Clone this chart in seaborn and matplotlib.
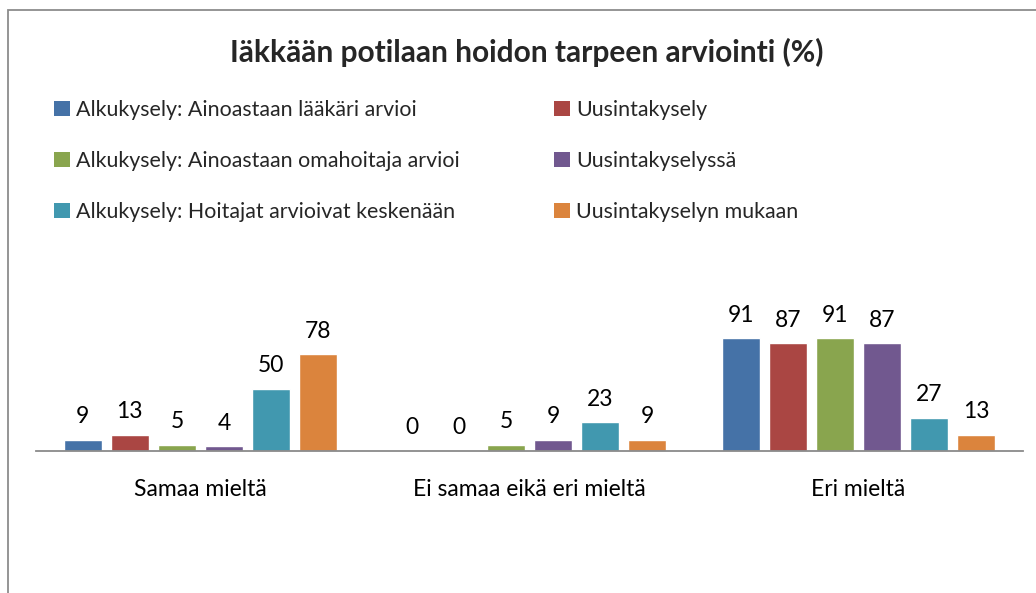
import matplotlib
matplotlib.use("Agg")
import matplotlib.pyplot as plt
from matplotlib.patches import Patch, Rectangle
import seaborn as sns
import pandas as pd

categories = ["Samaa mieltä", "Ei samaa eikä eri mieltä", "Eri mieltä"]
series = ["Alkukysely: Ainoastaan lääkäri arvioi", "Uusintakysely",
          "Alkukysely: Ainoastaan omahoitaja arvioi", "Uusintakyselyssä",
          "Alkukysely: Hoitajat arvioivat keskenään", "Uusintakyselyn mukaan"]
colors = ["#4572A7", "#AA4643", "#89A54E", "#71588F", "#4198AF", "#DB843D"]
values = [
    [9, 0, 91],
    [13, 0, 87],
    [5, 5, 91],
    [4, 9, 87],
    [50, 23, 27],
    [78, 9, 13],
]
title = "Iäkkään potilaan hoidon tarpeen arviointi (%)"

rows = []
for s, vals in zip(series, values):
    for c, v in zip(categories, vals):
        rows.append({"category": c, "series": s, "value": v})
df = pd.DataFrame(rows)

sns.set_theme(style="white")
plt.rcParams["font.family"] = ["Lato", "DejaVu Sans"]

W, H = 1036, 593
fig = plt.figure(figsize=(W / 100, H / 100), dpi=100)
ax = fig.add_axes([36 / W, 1 - 451 / H, 987 / W, 124 / H])

sns.barplot(data=df, x="category", y="value", hue="series", order=categories,
            hue_order=series, palette=colors, width=0.86, gap=0.19,
            saturation=1, legend=False, ax=ax)

ax.set_ylim(0, 100)
ax.set_xlim(-0.5, 2.5)
for cont in ax.containers:
    ax.bar_label(cont, labels=[f"{int(v)}" for v in cont.datavalues],
                 padding=9, fontsize=16.5, color="black", clip_on=False)

ax.set_xlabel("")
ax.set_ylabel("")
ax.set_yticks([])
ax.tick_params(axis="x", length=0, pad=20, labelsize=16.5, colors="black")
for side in ["left", "top", "right"]:
    ax.spines[side].set_visible(False)
ax.spines["bottom"].set_color("#8a8a8a")
ax.spines["bottom"].set_linewidth(1.3)
ax.patch.set_alpha(0)

fig.text(527 / W, 1 - 52 / H, title, ha="center", va="center",
         fontsize=21.5, fontweight="bold")

handles = [Patch(facecolor=c, edgecolor="none") for c in colors]
leg_kw = dict(frameon=False, fontsize=15.4, handlelength=0.75, handleheight=0.75,
              handletextpad=0.3, labelspacing=1.45, borderpad=0, borderaxespad=0)
fig.legend(handles[0::2], series[0::2], loc="upper left",
           bbox_to_anchor=(54 / W, 1 - 100 / H), **leg_kw)
fig.legend(handles[1::2], series[1::2], loc="upper left",
           bbox_to_anchor=(554 / W, 1 - 100 / H), **leg_kw)

fig.add_artist(Rectangle((8 / W, -0.1), 1.2, 1.1 - 10 / H, transform=fig.transFigure,
                         fill=False, edgecolor="#8c8c8c", linewidth=1.3))

fig.savefig("out.png", dpi=100)
